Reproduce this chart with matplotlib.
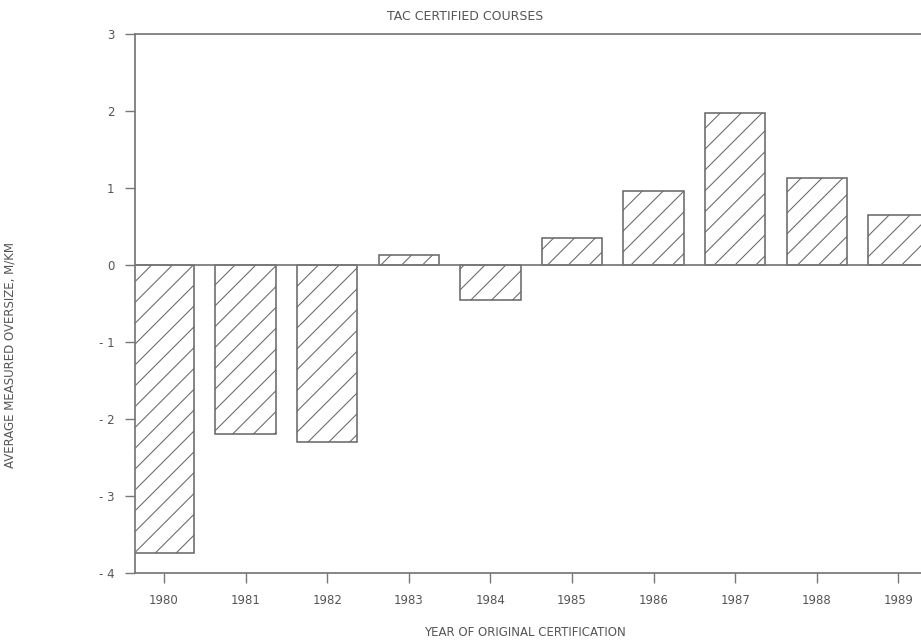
import matplotlib
matplotlib.use("Agg")
import matplotlib.pyplot as plt

# Datos
anios = ["1980", "1981", "1982", "1983", "1984", "1985", "1986", "1987", "1988", "1989"]
sobremedida = [-3.74, -2.19, -2.30, 0.13, -0.46, 0.35, 0.96, 1.97, 1.13, 0.65]
y_ticks = [-4, -3, -2, -1, 0, 1, 2, 3]

titulo = "TAC CERTIFIED COURSES"
etiqueta_x = "YEAR OF ORIGINAL CERTIFICATION"
etiqueta_y = "AVERAGE MEASURED OVERSIZE, M/KM"

gris = "#555555"
plt.rcParams["hatch.linewidth"] = 0.6
plt.rcParams["font.family"] = "DejaVu Sans"

fig = plt.figure(figsize=(7.368, 5.136), dpi=125)
ax = fig.add_axes([135 / 921, 1 - 573 / 642, (921 - 135) / 921, (573 - 34) / 642])

pos = list(range(len(anios)))
ax.bar(pos, sobremedida, width=0.74, fill=False, hatch="//",
       edgecolor="#666666", linewidth=0.9, zorder=2)
ax.axhline(0, color="#777777", linewidth=1.0, zorder=3)

ax.set_xlim(-0.355, 9.277)
ax.set_ylim(-4, 3)
ax.set_xticks(pos)
ax.set_xticklabels(anios)
ax.set_yticks(y_ticks)
ax.set_yticklabels([str(v).replace("-", "- ") for v in y_ticks])

for lado in ["left", "top", "bottom"]:
    ax.spines[lado].set_color("#777777")
    ax.spines[lado].set_linewidth(1.0)
ax.spines["right"].set_visible(False)

ax.tick_params(axis="both", colors="#777777", length=6, width=0.8,
               labelcolor=gris, labelsize=6.8, pad=6)

fig.text(465 / 921, 1 - 16 / 642, titulo, ha="center", va="center",
         fontsize=7.2, color=gris)
fig.text(525 / 921, 1 - 632 / 642, etiqueta_x, ha="center", va="center",
         fontsize=6.8, color=gris)
fig.text(10 / 921, 1 - 355 / 642, etiqueta_y, ha="center", va="center",
         rotation=90, fontsize=6.8, color=gris)

fig.savefig("out.png", dpi=125)
